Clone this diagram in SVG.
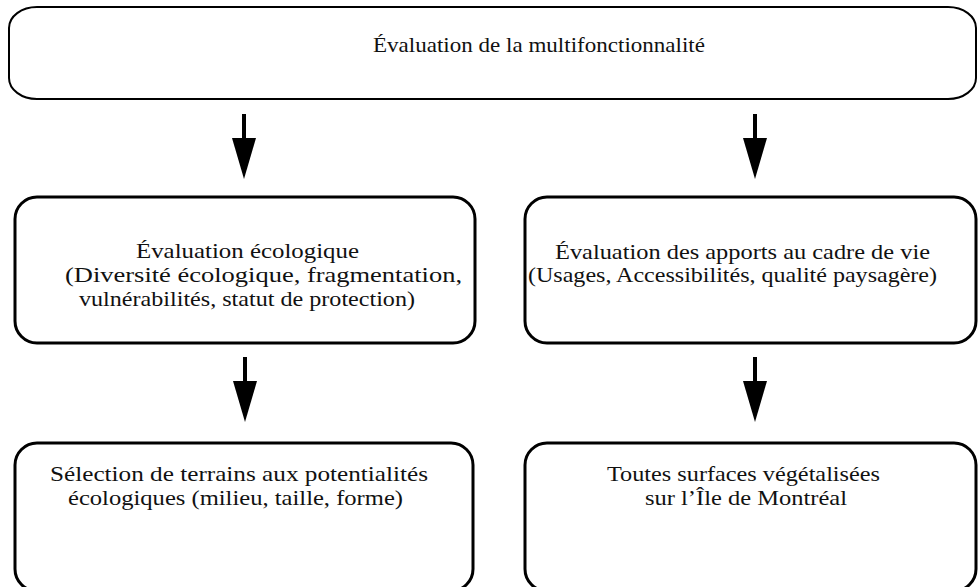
<svg xmlns="http://www.w3.org/2000/svg" width="979" height="587" viewBox="0 0 979 587">
<style>
.box{fill:#fff;stroke:#000;stroke-width:3}
.top{stroke-width:2}
.lbl{font-family:"Liberation Serif","Times New Roman",serif;font-size:21px;fill:#111}
.arr{stroke:#000;stroke-width:4;fill:none;marker-end:url(#head)}
</style>
<defs>
<marker id="head" markerUnits="userSpaceOnUse" markerWidth="41" markerHeight="24" viewBox="0 0 41 24" refX="0" refY="12" orient="auto">
<path d="M0,0 L41,12 L0,24 z" fill="#000"/>
</marker>
</defs>
<g id="connectors">
<path class="arr" d="M244,114 V138"/>
<path class="arr" d="M755,114 V138"/>
<path class="arr" d="M245,357 V381"/>
<path class="arr" d="M755,357 V381"/>
</g>
<g id="node-multifonctionnalite">
<rect class="box top" x="9" y="7" width="967" height="92" rx="28" ry="21"/>
<text class="lbl" x="373" y="52" textLength="332" lengthAdjust="spacingAndGlyphs">Évaluation de la multifonctionnalité</text>
</g>
<g id="node-ecologique">
<rect class="box" x="15" y="197" width="460" height="146" rx="22" ry="22"/>
<text class="lbl" x="136" y="258" textLength="223" lengthAdjust="spacingAndGlyphs">Évaluation écologique</text>
<text class="lbl" x="65" y="282" textLength="397" lengthAdjust="spacingAndGlyphs">(Diversité écologique, fragmentation,</text>
<text class="lbl" x="79" y="306" textLength="336" lengthAdjust="spacingAndGlyphs">vulnérabilités, statut de protection)</text>
</g>
<g id="node-cadre-de-vie">
<rect class="box" x="525" y="197" width="451" height="146" rx="22" ry="22"/>
<text class="lbl" x="555" y="259" textLength="375" lengthAdjust="spacingAndGlyphs">Évaluation des apports au cadre de vie</text>
<text class="lbl" x="528" y="282" textLength="409" lengthAdjust="spacingAndGlyphs">(Usages, Accessibilités, qualité paysagère)</text>
</g>
<g id="node-selection">
<rect class="box" x="15" y="443" width="458" height="148" rx="22" ry="22"/>
<text class="lbl" x="50" y="481" textLength="378" lengthAdjust="spacingAndGlyphs">Sélection de terrains aux potentialités</text>
<text class="lbl" x="68" y="505" textLength="335" lengthAdjust="spacingAndGlyphs">écologiques (milieu, taille, forme)</text>
</g>
<g id="node-surfaces">
<rect class="box" x="525" y="443" width="451" height="148" rx="22" ry="22"/>
<text class="lbl" x="607" y="481" textLength="273" lengthAdjust="spacingAndGlyphs">Toutes surfaces végétalisées</text>
<text class="lbl" x="645" y="505" textLength="202" lengthAdjust="spacingAndGlyphs">sur l’Île de Montréal</text>
</g>
</svg>
